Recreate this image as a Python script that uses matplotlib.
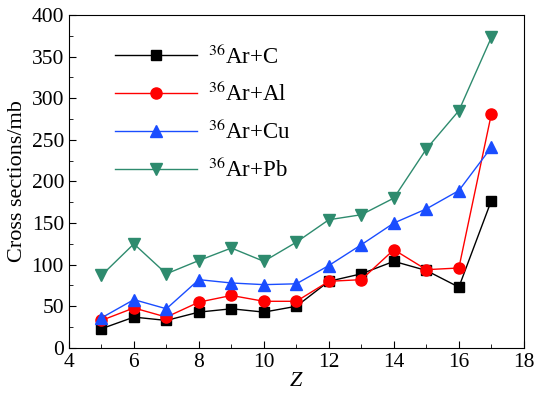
import matplotlib
matplotlib.use('Agg')
import matplotlib.pyplot as plt

# charge number Z
z = [5, 6, 7, 8, 9, 10, 11, 12, 13, 14, 15, 16, 17]

# cross sections in mb
ar_c = [23, 37, 33, 43, 47, 43, 50, 80, 89, 104, 93, 73, 177]
ar_al = [33, 48, 37, 55, 63, 56, 56, 80, 82, 118, 94, 96, 281]
ar_cu = [36, 58, 47, 82, 78, 76, 77, 99, 124, 150, 167, 189, 241]
ar_pb = [87, 125, 89, 105, 120, 104, 127, 154, 160, 180, 239, 285, 373]

plt.rcParams['font.family'] = ['Liberation Serif']
plt.rcParams['mathtext.fontset'] = 'stix'

fig = plt.figure(figsize=(5.34, 3.94), dpi=100)
ax = fig.add_axes([0.129, 0.117, 0.852, 0.845])

ax.plot(z, ar_c, color='black', marker='s', markersize=7, lw=1, label=r'$^{36}$Ar+C')
ax.plot(z, ar_al, color='#ff0000', marker='o', markersize=8, lw=1, label=r'$^{36}$Ar+Al')
ax.plot(z, ar_cu, color='#1a4dff', marker='^', markersize=8, lw=1, label=r'$^{36}$Ar+Cu')
ax.plot(z, ar_pb, color='#2e8b6e', marker='v', markersize=8, lw=1, label=r'$^{36}$Ar+Pb')

ax.set_xlim(4, 18)
ax.set_ylim(0, 400)
ax.set_xticks(range(4, 19, 2))
ax.set_xticks(range(5, 18, 2), minor=True)
ax.set_yticks(range(0, 401, 50))
ax.set_yticks(range(25, 400, 50), minor=True)
ax.tick_params(which='both', direction='in', labelsize=15.5)
ax.tick_params(which='major', length=5)
ax.tick_params(which='minor', length=3)

ax.set_xlabel('Z', fontsize=16, style='italic', labelpad=0)
ax.set_ylabel('Cross sections/mb', fontsize=16, labelpad=3)

ax.legend(loc='upper left', frameon=False, fontsize=16.5, handlelength=3.6,
          labelspacing=0.58, handletextpad=0.5, bbox_to_anchor=(0.055, 0.975))

fig.savefig('out.png', dpi=100)
